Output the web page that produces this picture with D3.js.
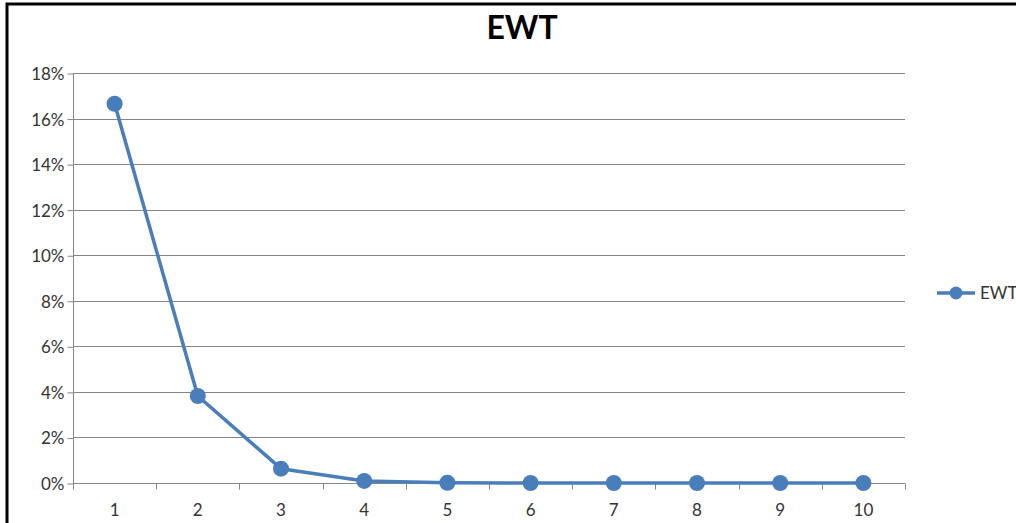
<!DOCTYPE html>
<html>
<head>
<meta charset="utf-8">
<script src="https://cdn.jsdelivr.net/npm/d3@7"></script>
<style>
  html, body { margin: 0; padding: 0; background: #fff; }
  svg { display: block; }
</style>
</head>
<body>
<svg id="chart" width="1016" height="523"></svg>
<script>
// Series data
const categories = ["1", "2", "3", "4", "5", "6", "7", "8", "9", "10"];
const ewtValues = [0.1665, 0.0382, 0.0063, 0.0009, 0.0001, 0.0000, 0.0000, 0.0000, 0.0000, 0.0000];
const yTicks = [0, 0.02, 0.04, 0.06, 0.08, 0.10, 0.12, 0.14, 0.16, 0.18];
const seriesName = "EWT";
const chartTitle = "EWT";

const svg = d3.select("#chart");
const font = "Lato, 'Open Sans', sans-serif";
const lineColor = "#4A7EBB";
const gridColor = "#868686";
const labelColor = "#333333";

const plot = { left: 73, right: 905, top: 73, bottom: 483 };

// Outer chart frame (continues past the right/bottom edge)
svg.append("rect")
  .attr("x", 7).attr("y", 4)
  .attr("width", 1040).attr("height", 540)
  .attr("fill", "#fff")
  .attr("stroke", "#000")
  .attr("stroke-width", 3);

const x = d3.scaleBand().domain(categories).range([plot.left, plot.right]).paddingInner(0).paddingOuter(0);
const y = d3.scaleLinear().domain([0, 0.18]).range([plot.bottom, plot.top]);

// Horizontal gridlines
svg.append("g")
  .selectAll("line")
  .data(yTicks.filter(d => d > 0))
  .join("line")
  .attr("x1", plot.left).attr("x2", plot.right)
  .attr("y1", d => Math.round(y(d)) + 0.5).attr("y2", d => Math.round(y(d)) + 0.5)
  .attr("stroke", gridColor).attr("stroke-width", 1);

// Y axis
const yAxis = d3.axisLeft(y)
  .tickValues(yTicks)
  .tickFormat(d3.format(".0%"))
  .tickSize(6)
  .tickPadding(3);
const yg = svg.append("g")
  .attr("transform", `translate(${plot.left + 0.5},0.5)`)
  .call(yAxis);
yg.select(".domain").attr("stroke", gridColor).attr("d", `M0,${plot.top}V${plot.bottom + 6}`);
yg.selectAll(".tick line").attr("stroke", gridColor);
yg.selectAll(".tick text")
  .attr("font-family", font).attr("font-size", 17).attr("fill", labelColor)
  .attr("dy", "0.35em");

// X axis: ticks between categories
const xg = svg.append("g").attr("transform", `translate(0,${plot.bottom + 0.5})`);
xg.append("line")
  .attr("x1", plot.left).attr("x2", plot.right)
  .attr("stroke", gridColor);
const boundaries = categories.map(c => x(c)).concat([x(categories[categories.length - 1]) + x.bandwidth()]);
xg.selectAll("line.tick")
  .data(boundaries)
  .join("line").attr("class", "tick")
  .attr("x1", d => Math.round(d) + 0.5).attr("x2", d => Math.round(d) + 0.5)
  .attr("y1", 0).attr("y2", 6)
  .attr("stroke", gridColor);
xg.selectAll("text")
  .data(categories)
  .join("text")
  .attr("x", d => x(d) + x.bandwidth() / 2)
  .attr("y", 32)
  .attr("text-anchor", "middle")
  .attr("font-family", font).attr("font-size", 17).attr("fill", labelColor)
  .text(d => d);

// Series line + markers
const cx = (d, i) => x(categories[i]) + x.bandwidth() / 2;
const line = d3.line().x(cx).y(d => y(d));
svg.append("path")
  .datum(ewtValues)
  .attr("d", line)
  .attr("fill", "none")
  .attr("stroke", lineColor)
  .attr("stroke-width", 3.5)
  .attr("stroke-linejoin", "round");
svg.append("g")
  .selectAll("circle")
  .data(ewtValues)
  .join("circle")
  .attr("cx", cx)
  .attr("cy", d => y(d))
  .attr("r", 8)
  .attr("fill", lineColor);

// Title
svg.append("text")
  .attr("x", 522).attr("y", 39)
  .attr("text-anchor", "middle")
  .attr("font-family", font).attr("font-weight", "bold").attr("font-size", 32)
  .attr("fill", "#000")
  .text(chartTitle);

// Legend
const lg = svg.append("g").attr("transform", "translate(937,293)");
lg.append("line").attr("x1", 0).attr("x2", 38).attr("y1", 0).attr("y2", 0)
  .attr("stroke", lineColor).attr("stroke-width", 3.5);
lg.append("circle").attr("cx", 19).attr("cy", 0).attr("r", 6.5).attr("fill", lineColor);
lg.append("text").attr("x", 43).attr("y", 0).attr("dy", "0.35em")
  .attr("font-family", font).attr("font-size", 17).attr("fill", labelColor)
  .text(seriesName);
</script>
</body>
</html>
